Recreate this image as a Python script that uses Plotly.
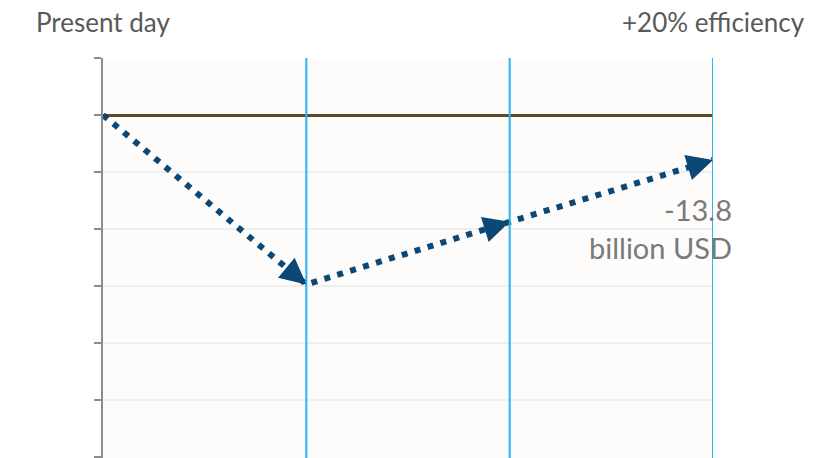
import plotly.graph_objects as go

stages = [0, 1, 2, 3]
stage_labels = ["Present day", "", "", "+20% efficiency"]
values = [0, -52.0, -32.8, -13.8]
end_label = "-13.8<br>billion USD"
y_tick_step = 17.5

LINE_COLOR = "#0c4876"

fig = go.Figure()

fig.add_trace(go.Scatter(
    x=stages, y=values, mode="lines",
    line=dict(color=LINE_COLOR, width=6, dash="6px,7.5px"),
    hoverinfo="skip", showlegend=False,
))

# arrowheads at the end of each segment
for i in range(1, len(stages)):
    x1, y1 = stages[i], values[i]
    x0, y0 = stages[i - 1], values[i - 1]
    f = 0.1
    fig.add_annotation(
        x=x1, y=y1, xref="x", yref="y",
        ax=x1 - f * (x1 - x0), ay=y1 - f * (y1 - y0), axref="x", ayref="y",
        text="", showarrow=True, arrowhead=2, arrowsize=2.6, arrowwidth=2,
        arrowcolor=LINE_COLOR, standoff=0, startstandoff=0,
    )

for s in stages[1:]:
    fig.add_shape(type="line", xref="x", yref="paper", x0=s, x1=s, y0=0, y1=1,
                  line=dict(color="#29b5f5", width=2), layer="above")

for s, lab in zip(stages, stage_labels):
    if lab:
        fig.add_annotation(x=s, y=1, xref="x", yref="paper", text=lab,
                           showarrow=False, yanchor="middle", yshift=36,
                           font=dict(family="Lato", size=26, color="#595959"))

fig.add_annotation(x=stages[-1], y=values[-1], xref="x", yref="y", text=end_label,
                   showarrow=False, xanchor="right", yanchor="top", align="right",
                   xshift=21, yshift=-30,
                   font=dict(family="Lato", size=29, color="#7a7a7a"))

fig.update_layout(
    width=828, height=458,
    margin=dict(l=103, r=115, t=58, b=0),
    paper_bgcolor="white", plot_bgcolor="#fdfcfb",
    showlegend=False,
    xaxis=dict(range=[0, 3], showgrid=False, zeroline=False, showticklabels=False,
               showline=False, ticks=""),
    yaxis=dict(range=[-105.3, 17.5], dtick=y_tick_step, tick0=0,
               showgrid=True, gridcolor="#efefef", gridwidth=1.5,
               zeroline=True, zerolinecolor="#5f4b28", zerolinewidth=2.5,
               showline=True, linecolor="#8c8c8c", linewidth=2,
               ticks="outside", ticklen=7, tickwidth=2, tickcolor="#8c8c8c",
               showticklabels=False),
)

fig.write_html("out.html")
